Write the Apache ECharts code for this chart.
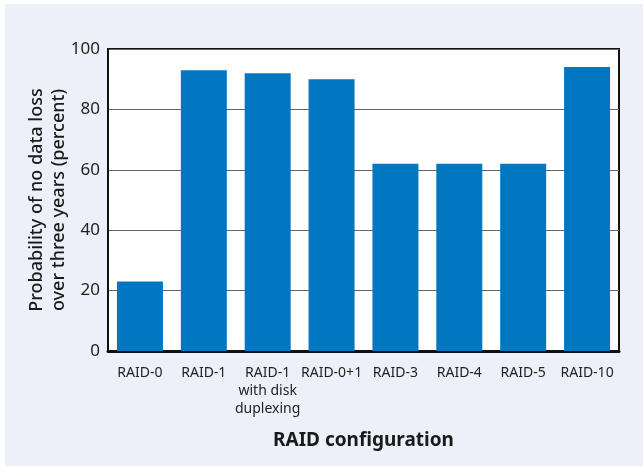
<!DOCTYPE html>
<html>
<head>
<meta charset="utf-8">
<script src="https://cdn.jsdelivr.net/npm/echarts@6/dist/echarts.min.js"></script>
<style>
  html, body { margin: 0; padding: 0; background: #ffffff; }
  #raid { position: absolute; left: 5px; top: 4px; width: 638px; height: 462px; background: #edf0f8; }
</style>
</head>
<body>
<div id="raid"></div>
<script>
const categories = ['RAID-0', 'RAID-1', 'RAID-1\nwith disk\nduplexing', 'RAID-0+1', 'RAID-3', 'RAID-4', 'RAID-5', 'RAID-10'];
const noLossPct = [23, 93, 92, 90, 62, 62, 62, 94];
const yTicks = [0, 20, 40, 60, 80, 100];

const font = '"Noto Sans", "Open Sans", sans-serif';
const myChart = echarts.init(document.getElementById('raid'));
const option = {
  textStyle: { fontFamily: font },
  grid: {
    left: 103,
    right: 24,
    top: 45,
    bottom: 115,
    show: true,
    backgroundColor: '#ffffff',
    borderColor: '#111111',
    borderWidth: 2
  },
  xAxis: {
    type: 'category',
    data: categories,
    name: 'RAID configuration',
    nameLocation: 'middle',
    nameGap: 80,
    nameMoveOverlap: false,
    nameTextStyle: { fontSize: 19, fontWeight: 'bold', color: '#1a1a1a', fontFamily: font },
    axisLine: { lineStyle: { color: '#111111', width: 3 } },
    axisTick: { inside: true, length: 7, lineStyle: { color: '#111111', width: 2 } },
    axisLabel: { fontSize: 14, color: '#222222', lineHeight: 18, margin: 13, interval: 0, fontFamily: font }
  },
  yAxis: {
    type: 'value',
    min: 0,
    max: yTicks[yTicks.length - 1],
    interval: yTicks[1] - yTicks[0],
    name: 'Probability of no data loss\nover three years (percent)',
    nameLocation: 'middle',
    nameGap: 38,
    nameMoveOverlap: false,
    nameTextStyle: { fontSize: 18, fontWeight: 500, color: '#1a1a1a', lineHeight: 22, fontFamily: font },
    axisLine: { show: true, lineStyle: { color: '#111111', width: 2 } },
    axisTick: { show: false },
    axisLabel: { fontSize: 17, color: '#222222', margin: 8, fontFamily: font },
    splitLine: { lineStyle: { color: '#666666', width: 1 } }
  },
  series: [{
    type: 'bar',
    data: noLossPct,
    barWidth: '72%',
    itemStyle: { color: '#0077c0' },
    label: { show: false }
  }]
};
myChart.setOption(option);
</script>
</body>
</html>
